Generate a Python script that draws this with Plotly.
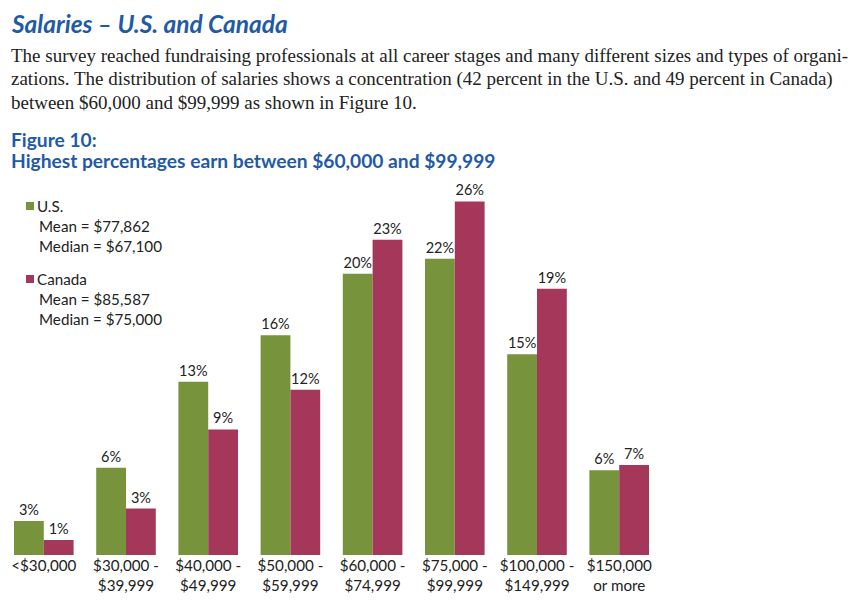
import plotly.graph_objects as go

# page offset: browser body margin of 8px
OFF = 8
W, H = 864 - OFF, 610 - OFF

categories = ["<$30,000", "$30,000 -<br>$39,999", "$40,000 -<br>$49,999", "$50,000 -<br>$59,999",
              "$60,000 -<br>$74,999", "$75,000 -<br>$99,999", "$100,000 -<br>$149,999", "$150,000<br>or more"]
us_values = [2.5, 6.4, 12.7, 16.1, 20.6, 21.7, 14.7, 6.2]
ca_values = [1.1, 3.4, 9.2, 12.1, 23.1, 25.9, 19.5, 6.6]
us_labels = ["3%", "6%", "13%", "16%", "20%", "22%", "15%", "6%"]
ca_labels = ["1%", "3%", "9%", "12%", "23%", "26%", "19%", "7%"]

GREEN = "#77933C"
RED = "#A5375A"
BLUE = "#1F5AA6"
LABEL_FONT = "Lato"

fig = go.Figure()
fig.add_trace(go.Bar(x=categories, y=us_values, name="U.S.", marker=dict(color=GREEN, line=dict(width=0)),
                     text=us_labels, textposition="outside", cliponaxis=False,
                     textfont=dict(family=LABEL_FONT, size=14.5, color="#222222")))
fig.add_trace(go.Bar(x=categories, y=ca_values, name="Canada", marker=dict(color=RED, line=dict(width=0)),
                     text=ca_labels, textposition="outside", cliponaxis=False,
                     textfont=dict(family=LABEL_FONT, size=14.5, color="#222222")))

def px(x):
    return (x - OFF) / W

def py(y):
    return 1 - (y - OFF) / H

base_y = 555
scale = 13.65
step = 82.2
left_edge = 2.7
right_edge = 660.3
x_start = -0.5 + (OFF - left_edge) / step
fig.update_layout(
    width=W, height=H, margin=dict(l=0, r=0, t=0, b=0),
    paper_bgcolor="white", plot_bgcolor="white",
    showlegend=False, barmode="group", bargap=0.275, bargroupgap=0,
    xaxis=dict(domain=[0, px(right_edge)], range=[x_start, 7.5], showgrid=False, showline=False, ticks="",
               tickfont=dict(family=LABEL_FONT, size=15.2, color="#222222"), fixedrange=True),
    yaxis=dict(domain=[py(base_y), 1], range=[0, (base_y - OFF) / scale], visible=False, fixedrange=True),
    uniformtext=dict(minsize=8, mode="show"),
)

ann = []
def text(x, y, s, size, family, color="#222222", bold=False, italic=False, yanchor="middle"):
    if bold:
        s = "<b>" + s + "</b>"
    if italic:
        s = "<i>" + s + "</i>"
    ann.append(dict(x=px(x), y=py(y), xref="paper", yref="paper", text=s, showarrow=False,
                    xanchor="left", yanchor=yanchor, borderpad=0,
                    font=dict(family=family, size=size, color=color)))

text(10, OFF, "Salaries – U.S. and Canada", 24.5, "Lato", BLUE, bold=True, italic=True, yanchor="top")
serif = "Liberation Serif"
text(10, 56, "The survey reached fundraising professionals at all career stages and many different sizes and types of organi-", 19, serif)
text(10, 79, "zations. The distribution of salaries shows a concentration (42 percent in the U.S. and 49 percent in Canada)", 19, serif)
text(10, 102, "between $60,000 and $99,999 as shown in Figure 10.", 19, serif)
text(10, 139, "Figure 10:", 19.2, "Lato", BLUE, bold=True)
text(10, 160, "Highest percentages earn between $60,000 and $99,999", 19.2, "Lato", BLUE, bold=True)

lf = 15.2
text(36, 206, "U.S.", lf, LABEL_FONT)
text(38, 226, "Mean = $77,862", lf, LABEL_FONT)
text(38, 246, "Median = $67,100", lf, LABEL_FONT)
text(36, 279, "Canada", lf, LABEL_FONT)
text(38, 299, "Mean = $85,587", lf, LABEL_FONT)
text(38, 319, "Median = $75,000", lf, LABEL_FONT)

shapes = [
    dict(type="rect", xref="paper", yref="paper", x0=px(26), x1=px(34), y0=py(210), y1=py(202),
         fillcolor=GREEN, line=dict(width=0)),
    dict(type="rect", xref="paper", yref="paper", x0=px(26), x1=px(34), y0=py(283), y1=py(275),
         fillcolor=RED, line=dict(width=0)),
]
fig.update_layout(annotations=ann, shapes=shapes)

fig.write_html("out.html")
